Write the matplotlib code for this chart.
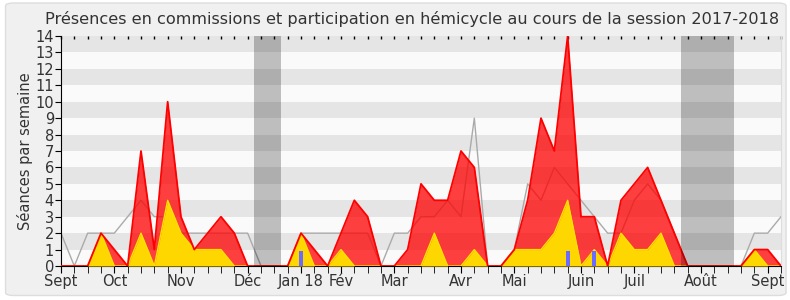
import matplotlib
matplotlib.use("Agg")
import matplotlib.pyplot as plt
from matplotlib.patches import FancyBboxPatch
import numpy as np

# weekly values, session 2017-2018 (week 0 = early Sept 2017)
commissions = [0, 0, 0, 2, 1, 0, 7, 1, 10, 3, 1, 2, 3, 2, 0, 0, 0, 0, 2, 1,
               0, 2, 4, 3, 0, 0, 1, 5, 4, 4, 7, 6, 0, 0, 1, 4, 9, 7, 14, 3,
               3, 0, 4, 5, 6, 4, 2, 0, 0, 0, 0, 0, 1, 1, 0]
hemicycle = [0, 0, 0, 2, 0, 0, 2, 0, 4, 2, 1, 1, 1, 0, 0, 0, 0, 0, 2, 0,
             0, 1, 0, 0, 0, 0, 0, 0, 2, 0, 0, 1, 0, 0, 1, 1, 1, 2, 4, 0,
             1, 0, 2, 1, 1, 2, 0, 0, 0, 0, 0, 0, 1, 0, 0]
mediane = [2, 0, 2, 2, 2, 3, 4, 3, 3, 2, 2, 2, 2, 2, 2, 0, 0, 0, 2, 2,
           2, 2, 2, 2, 0, 2, 2, 3, 3, 4, 3, 9, 0, 0, 1, 5, 4, 6, 5, 4,
           3, 2, 2, 4, 5, 4, 2, 0, 0, 0, 0, 0, 2, 2, 3]
questions_weeks = [18, 38, 40]
questions = [0.9, 0.9, 0.9]
vacances = [(14.5, 16.5), (46.5, 50.5)]
mois = ["Sept", "Oct", "Nov", "Déc", "Jan 18", "Fév", "Mar", "Avr", "Mai",
        "Juin", "Juil", "Août", "Sept"]
mois_pos = [0, 4, 9, 14, 18, 21, 25, 30, 34, 39, 43, 48, 53]

plt.rcParams['font.family'] = ['DejaVu Sans']

weeks = np.arange(len(commissions))

fig = plt.figure(figsize=(7.9, 3.0), dpi=100)
fig.patch.set_facecolor("white")
fig.patches.append(FancyBboxPatch((0.007, 0.015), 0.988, 0.975,
                                  boxstyle="round,pad=0,rounding_size=0.01",
                                  transform=fig.transFigure, facecolor="#f0f0f0",
                                  edgecolor="#dddddd", lw=1, zorder=-10))
ax = fig.add_axes([0.0772, 0.1133, 0.9114, 0.7667])
ax.set_facecolor("#fafafa")

# horizontal stripes
for k in range(1, 14, 2):
    ax.axhspan(k, k + 1, color="#e5e5e5", lw=0, zorder=0)

ax.plot(weeks, mediane, color="#aaaaaa", lw=1, zorder=1)
ax.fill_between(weeks, 0, commissions, color="#ff0000", alpha=0.75, lw=0, zorder=2)
ax.fill_between(weeks, 0, hemicycle, color="#ffd700", lw=0, zorder=3)
ax.plot(weeks, hemicycle, color="#ffe000", lw=1, zorder=4)
ax.plot(weeks, commissions, color="#ff0000", lw=1.3, zorder=5)
ax.bar(questions_weeks, questions, width=0.3, color="#6b6bff", zorder=6)

for a, b in vacances:
    ax.axvspan(a, b, color="black", alpha=0.24, lw=0, zorder=7)

ax.set_xlim(0, 54)
ax.set_ylim(0, 14)
ax.set_yticks(range(0, 15))
ax.set_xticks(mois_pos)
ax.set_xticklabels(mois)
ax.set_xticks(weeks, minor=True)
ax.tick_params(axis="x", which="major", length=5, labelsize=10.5, pad=1)
ax.tick_params(axis="x", which="minor", length=5)
ax.tick_params(axis="y", length=4, labelsize=10.5, pad=1)
for lab in ax.get_yticklabels():
    lab.set_color("#333333")
for lab in ax.get_xticklabels():
    lab.set_color("#333333")

# small inward ticks along the top edge
top = ax.secondary_xaxis("top")
top.set_xticks(weeks)
top.set_xticklabels([])
top.tick_params(direction="in", length=2, width=1)
top.spines["top"].set_visible(False)

ax.spines["top"].set_visible(False)
ax.spines["right"].set_color("#dddddd")
ax.spines["left"].set_color("black")
ax.spines["bottom"].set_color("black")

ax.set_ylabel("Séances par semaine", fontsize=10.5, color="#333333", labelpad=2)
fig.text(0.522, 0.938, "Présences en commissions et participation en hémicycle au cours de la session 2017-2018",
         ha="center", va="center", fontsize=11.6, color="#333333")

fig.savefig("out.png", dpi=100, facecolor=fig.get_facecolor())
